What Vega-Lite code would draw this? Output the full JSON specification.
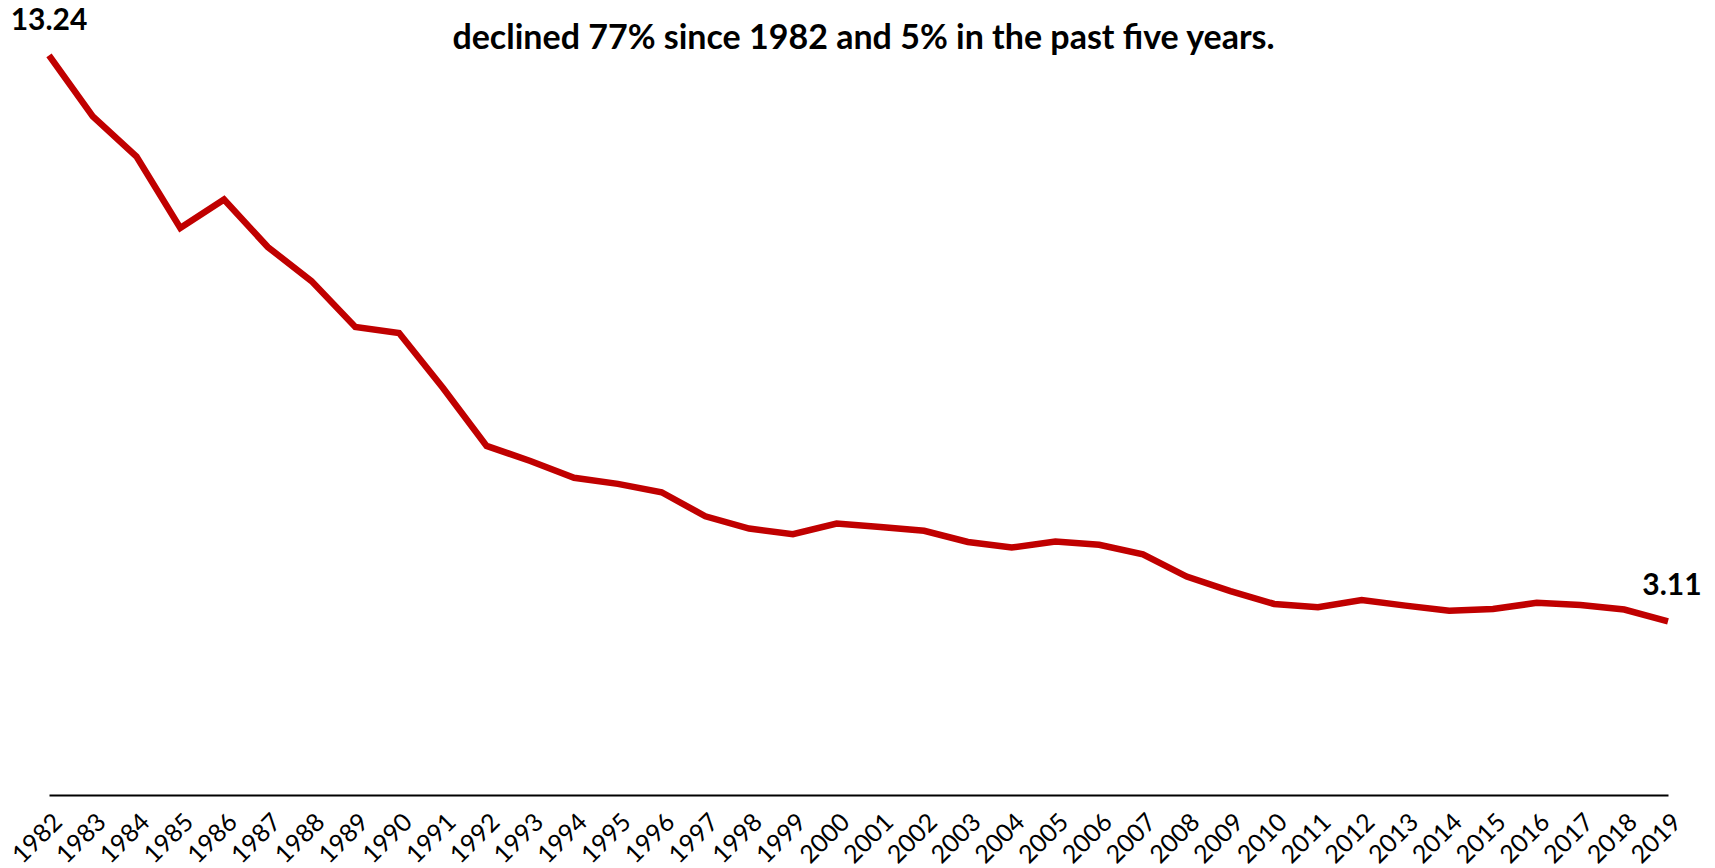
{
  "$schema": "https://vega.github.io/schema/vega-lite/v6.json",
  "width": 1619,
  "height": 782,
  "autosize": {"type": "none"},
  "padding": {"left": 49, "top": 13, "right": 47, "bottom": 73},
  "background": "white",
  "config": {"view": {"stroke": null}},
  "title": {
    "text": "declined 77% since 1982 and 5% in the past five years.",
    "font": "Lato",
    "fontSize": 34,
    "fontWeight": "bold",
    "color": "#000000",
    "anchor": "middle",
    "frame": "group",
    "baseline": "middle",
    "offset": 0,
    "dy": 67,
    "dx": 5
  },
  "data": {
    "values": [
      {"year": "1982", "value": 13.24},
      {"year": "1983", "value": 12.15},
      {"year": "1984", "value": 11.43},
      {"year": "1985", "value": 10.15},
      {"year": "1986", "value": 10.66},
      {"year": "1987", "value": 9.81},
      {"year": "1988", "value": 9.2},
      {"year": "1989", "value": 8.38},
      {"year": "1990", "value": 8.27},
      {"year": "1991", "value": 7.29},
      {"year": "1992", "value": 6.25},
      {"year": "1993", "value": 5.98},
      {"year": "1994", "value": 5.68},
      {"year": "1995", "value": 5.57},
      {"year": "1996", "value": 5.42},
      {"year": "1997", "value": 4.99},
      {"year": "1998", "value": 4.77},
      {"year": "1999", "value": 4.67},
      {"year": "2000", "value": 4.86},
      {"year": "2001", "value": 4.8},
      {"year": "2002", "value": 4.73},
      {"year": "2003", "value": 4.53},
      {"year": "2004", "value": 4.43},
      {"year": "2005", "value": 4.54},
      {"year": "2006", "value": 4.48},
      {"year": "2007", "value": 4.31},
      {"year": "2008", "value": 3.91},
      {"year": "2009", "value": 3.65},
      {"year": "2010", "value": 3.42},
      {"year": "2011", "value": 3.36},
      {"year": "2012", "value": 3.49},
      {"year": "2013", "value": 3.39},
      {"year": "2014", "value": 3.3},
      {"year": "2015", "value": 3.33},
      {"year": "2016", "value": 3.44},
      {"year": "2017", "value": 3.4},
      {"year": "2018", "value": 3.32},
      {"year": "2019", "value": 3.11}
    ]
  },
  "encoding": {
    "x": {
      "field": "year",
      "type": "ordinal",
      "scale": {"type": "point", "padding": 0},
      "axis": {
        "title": null,
        "domain": true,
        "domainColor": "#000000",
        "domainWidth": 2,
        "ticks": false,
        "grid": false,
        "labelAngle": -45,
        "labelFont": "Lato",
        "labelFontSize": 25,
        "labelColor": "#000000",
        "labelPadding": 14
      }
    },
    "y": {
      "field": "value",
      "type": "quantitative",
      "scale": {"domain": [0, 14]},
      "axis": null
    }
  },
  "layer": [
    {
      "mark": {"type": "line", "color": "#C00000", "strokeWidth": 6.5, "strokeJoin": "miter"}
    },
    {
      "transform": [{"filter": "datum.year == '1982'"}],
      "mark": {
        "type": "text",
        "font": "Lato",
        "fontSize": 30,
        "fontWeight": "bold",
        "color": "#000000",
        "dy": -34,
        "baseline": "middle",
        "align": "center"
      },
      "encoding": {
        "text": {"field": "value", "type": "quantitative", "format": ".2f"}
      }
    },
    {
      "transform": [{"filter": "datum.year == '2019'"}],
      "mark": {
        "type": "text",
        "font": "Lato",
        "fontSize": 30,
        "fontWeight": "bold",
        "color": "#000000",
        "dy": -35,
        "dx": 4,
        "baseline": "middle",
        "align": "center"
      },
      "encoding": {
        "text": {"field": "value", "type": "quantitative", "format": ".2f"}
      }
    }
  ]
}
